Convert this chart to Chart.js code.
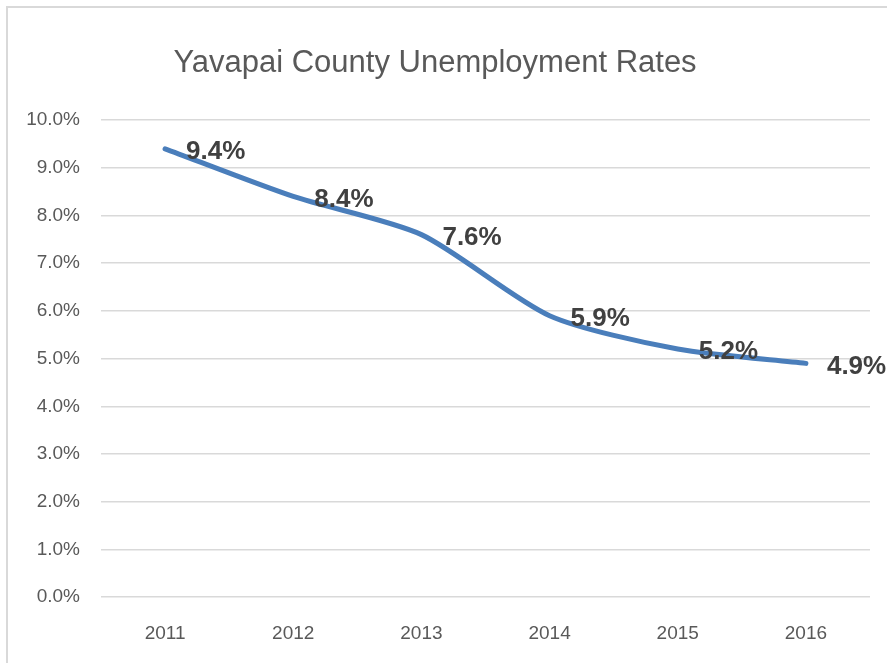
<!DOCTYPE html>
<html>
<head>
<meta charset="utf-8" />
<title>Yavapai County Unemployment Rates</title>
<style>
    body { margin: 0; overflow: hidden; background: #fff; }
    #frame { position: absolute; left: 6px; top: 6px; width: 900px; height: 700px; border: 2px solid #d9d9d9; }
    canvas { position: absolute; left: 0; top: 0; }
</style>
</head>
<body>
<div id="frame"></div>
<canvas id="myChart" width="887" height="663"></canvas>
<script src="https://cdn.jsdelivr.net/npm/chart.js@4.4.0/dist/chart.umd.min.js"></script>
<script>
    // donnees
    var years = ['2011', '2012', '2013', '2014', '2015', '2016'];
    var rates = [9.4, 8.4, 7.6, 5.9, 5.2, 4.9];
    var titleText = 'Yavapai County Unemployment Rates';

    var fontName = "'Liberation Sans', Arial, sans-serif";

    // etiquettes de valeur a droite de chaque point
    var valueLabels = {
        id: 'valueLabels',
        afterDatasetsDraw: function (chart) {
            var ctx = chart.ctx;
            var meta = chart.getDatasetMeta(0);
            ctx.save();
            ctx.font = 'bold 26px ' + fontName;
            ctx.fillStyle = '#404040';
            ctx.textAlign = 'left';
            ctx.textBaseline = 'middle';
            meta.data.forEach(function (pt, i) {
                ctx.fillText(rates[i].toFixed(1) + '%', pt.x + 21, pt.y + 3);
            });
            ctx.restore();
        }
    };

    var context = document.getElementById('myChart').getContext('2d');
    var chart = new Chart(context, {
        type: 'line',
        data: {
            labels: years,
            datasets: [{
                label: 'Unemployment rate',
                data: rates,
                borderColor: '#4a7ebb',
                borderWidth: 5,
                borderCapStyle: 'round',
                pointRadius: 0,
                tension: 0.25,
                fill: false
            }]
        },
        options: {
            responsive: false,
            animation: false,
            layout: { padding: { left: 0, right: 17, top: 0, bottom: 0 } },
            plugins: {
                legend: { display: false },
                tooltip: { enabled: false },
                title: {
                    display: true,
                    text: titleText,
                    color: '#595959',
                    font: { family: fontName, size: 31, weight: 'normal' },
                    padding: { top: 45, bottom: 38 }
                }
            },
            scales: {
                x: {
                    offset: true,
                    grid: { display: false, drawTicks: false },
                    border: { display: false },
                    ticks: {
                        color: '#595959',
                        font: { family: fontName, size: 19 },
                        padding: 25
                    },
                    afterFit: function (scale) { scale.height = 66; }
                },
                y: {
                    min: 0,
                    max: 10,
                    grid: { color: '#d9d9d9', lineWidth: 1.5, drawTicks: false },
                    border: { display: false },
                    ticks: {
                        stepSize: 1,
                        color: '#595959',
                        font: { family: fontName, size: 19 },
                        padding: 21,
                        callback: function (v) { return v.toFixed(1) + '%'; }
                    },
                    afterFit: function (scale) { scale.width = 101; }
                }
            }
        },
        plugins: [valueLabels]
    });
</script>
</body>
</html>
